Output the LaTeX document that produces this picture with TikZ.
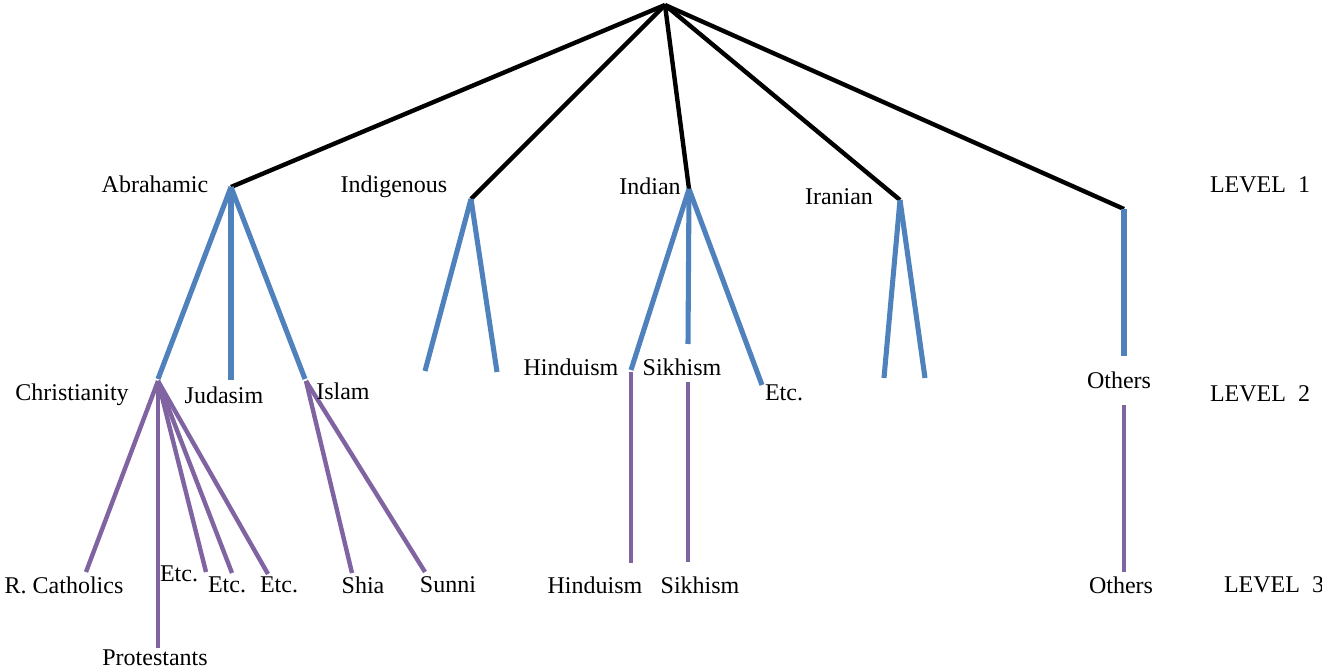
\documentclass[tikz,border=0pt]{standalone}
\usepackage{fontspec}
\setmainfont{Liberation Serif}
\definecolor{lblue}{HTML}{4F81BD}
\definecolor{lpurple}{HTML}{8064A2}
\begin{document}
\begin{tikzpicture}[x=0.75pt,y=-0.75pt,
  lbl/.style={inner sep=0pt, font=\fontsize{18}{21}\selectfont},
  blk/.style={line width=3.3pt, black},
  blu/.style={line width=3.8pt, lblue},
  pur/.style={line width=3.3pt, lpurple}]
\useasboundingbox (0,0) rectangle (1322,670);
% joints
\coordinate (root) at (665,5);
\coordinate (abr) at (231,187);
\coordinate (ind) at (471,199);
\coordinate (indn) at (689,189);
\coordinate (irn) at (900,200);
\coordinate (oth) at (1124,209);
% level 2 ends
\coordinate (chr) at (158,379);
\coordinate (jud) at (231,380);
\coordinate (isl) at (305,379);
\coordinate (ig1) at (425,371);
\coordinate (ig2) at (497,372);
\coordinate (hin) at (631,370);
\coordinate (sik) at (688,344);
\coordinate (etc) at (762,385);
\coordinate (ir1) at (884,378);
\coordinate (ir2) at (925,378);
\coordinate (oth2) at (1124,356);
% level 3
\coordinate (chrb) at (158,381);
\coordinate (rc) at (86,572);
\coordinate (pro) at (158,648);
\coordinate (e1) at (206,572);
\coordinate (e2) at (232,573);
\coordinate (e3) at (268,574);
\coordinate (islb) at (306,381);
\coordinate (shia) at (352,573);
\coordinate (sunni) at (425,572);
\coordinate (hint) at (631,372);
\coordinate (hinb) at (631,563);
\coordinate (sikt) at (688,382);
\coordinate (sikb) at (688,562);
\coordinate (otht) at (1124,405);
\coordinate (othb) at (1124,572);

% black
\foreach \t in {abr,ind,indn,irn,oth} \draw[blk] (root) -- (\t);
% blue
\foreach \t in {chr,jud,isl} \draw[blu] (abr) -- (\t);
\foreach \t in {ig1,ig2} \draw[blu] (ind) -- (\t);
\foreach \t in {hin,sik,etc} \draw[blu] (indn) -- (\t);
\foreach \t in {ir1,ir2} \draw[blu] (irn) -- (\t);
\draw[blu] (oth) -- (oth2);
% purple
\foreach \t in {rc,pro,e1,e2,e3} \draw[pur] (chrb) -- (\t);
\foreach \t in {shia,sunni} \draw[pur] (islb) -- (\t);
\draw[pur] (hint) -- (hinb);
\draw[pur] (sikt) -- (sikb);
\draw[pur] (otht) -- (othb);

% labels
\node[lbl] (tAbr) at (155,184) {Abrahamic};
\node[lbl] (tInd) at (394,187) {Indigenous};
\node[lbl] (tIndn) at (650,186) {Indian};
\node[lbl] (tIrn) at (839,197) {Iranian};
\node[lbl] (tL1) at (1260,185) {LEVEL\ \ 1};
\node[lbl] (tL2) at (1260,394) {LEVEL\ \ 2};
\node[lbl] (tL3) at (1274,585) {LEVEL\ \ 3};
\node[lbl] (tChr) at (72,395) {Christianity};
\node[lbl] (tJud) at (224,395) {Judasim};
\node[lbl] (tIsl) at (343,391) {Islam};
\node[lbl] (tHin) at (571,367) {Hinduism};
\node[lbl] (tSik) at (682,367) {Sikhism};
\node[lbl] (tEtc) at (784,393) {Etc.};
\node[lbl] (tOth) at (1119,380) {Others};
\node[lbl] (tRc) at (64,585) {R.\ Catholics};
\node[lbl] (tE1) at (179,574) {Etc.};
\node[lbl] (tE2) at (227,585) {Etc.};
\node[lbl] (tE3) at (279,585) {Etc.};
\node[lbl] (tShia) at (363,585) {Shia};
\node[lbl] (tSunni) at (448,585) {Sunni};
\node[lbl] (tPro) at (155,658) {Protestants};
\node[lbl] (tHin3) at (595,585) {Hinduism};
\node[lbl] (tSik3) at (700,585) {Sikhism};
\node[lbl] (tOth3) at (1121,585) {Others};
\end{tikzpicture}
\end{document}
